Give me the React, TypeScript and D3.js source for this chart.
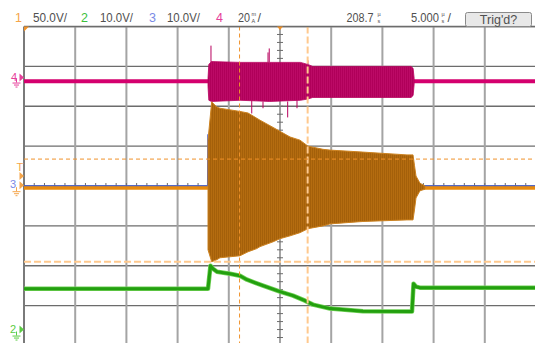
import * as d3 from "d3";

// time axis: 5 µs/div, 10 divisions -> 0..50 µs ; vertical in screen divisions (+4 top .. -4 bottom)
const timeTicks = d3.range(0, 51, 5);
const divTicks = d3.range(-4, 5, 1);

// header readout
const chanNames = ["1", "2", "3", "4"];
const chanColors = ["#f5a54a", "#3cc03c", "#7a8ae6", "#e6409a"];
const chanScales = ["50.0V/", "10.0V/", "10.0V/", "20"];
const delayText = "208.7";
const timebaseText = "5.000";
const trigText = "Trig'd?";

// channel 4 (pink): baseline level and burst envelope [t, top, bottom]
const ch4Level = 2.63;
const ch4Env: [number, number, number][] = [
  [17.97, 2.7, 2.5], [18.05, 3.05, 2.15], [18.3, 3.12, 2.12], [21.1, 3.1, 2.15],
  [24.0, 3.1, 2.12], [27.0, 3.1, 2.15], [27.7, 3.05, 2.18], [28.2, 3.0, 2.22],
  [33.0, 3.0, 2.22], [37.8, 3.0, 2.22], [38.0, 2.95, 2.27], [38.1, 2.7, 2.55],
];
const ch4Spikes: [number, number, number][] = [
  [18.26, 3.1, 3.52], [23.83, 3.1, 3.35], [23.95, 3.1, 3.45], [27.73, 3.05, 3.15],
  [22.24, 2.15, 1.82], [23.34, 2.12, 1.95], [25.75, 2.12, 1.72], [26.66, 2.15, 1.95],
];

// channel 1 (orange)
const ch1Level = -0.05;
const ch1Env: [number, number, number][] = [
  [17.97, 1.15, -1.6], [18.33, 2.11, -1.9], [18.82, 1.98, -1.85], [19.14, 1.95, -1.8],
  [21.09, 1.87, -1.75], [21.88, 1.83, -1.65], [22.73, 1.7, -1.57], [23.05, 1.65, -1.52],
  [24.32, 1.47, -1.4], [25.0, 1.37, -1.32], [25.98, 1.23, -1.25], [26.95, 1.15, -1.17],
  [27.73, 1.0, -1.07], [29.2, 0.92, -1.0], [29.88, 0.9, -0.95], [32.52, 0.86, -0.9],
  [33.1, 0.85, -0.89], [37.4, 0.78, -0.85], [37.99, 0.78, -0.85], [38.13, 0.52, -0.6],
  [38.28, 0.25, -0.3], [38.67, 0.07, -0.12], [39.16, 0.0, -0.08],
];

// channel 2 (green)
const ch2Trace: [number, number][] = [
  [0, -2.575], [17.97, -2.575], [18.21, -2.0], [18.46, -2.075], [18.85, -2.15],
  [20.12, -2.2], [21.09, -2.25], [21.78, -2.35], [23.34, -2.5], [25.0, -2.65],
  [26.27, -2.75], [27.44, -2.875], [28.22, -2.975], [29.88, -3.075], [33.1, -3.14],
  [37.89, -3.15], [38.04, -2.45], [38.28, -2.525], [38.67, -2.55], [50, -2.55],
];

// channel 3 (blue), mostly hidden under channel 1
const ch3Trace: [number, number][] = [
  [0, 0], [17.94, 0], [17.97, 1.3], [18.0, 0], [38.1, 0], [50, 0],
];

// cursors
const xCursors = [21.05, 27.7];
const yCursors = [0.675, -1.9];

// left-side markers (div levels)
const ch4Ground = 2.72;
const trigLevel = 0.47;
const trigArrow = 0.25;
const ch1Ground = 0.02;
const ch2Ground = -3.6;

const xS = d3.scaleLinear().domain([0, 50]).range([24, 536]);
const yS = d3.scaleLinear().domain([4, -4]).range([26.5, 345.5]);

const envArea = d3
  .area<[number, number, number]>()
  .x((d) => xS(d[0]))
  .y0((d) => yS(d[2]))
  .y1((d) => yS(d[1]));
const trace = d3
  .line<[number, number]>()
  .x((d) => xS(d[0]))
  .y((d) => yS(d[1]));

const font = "'Liberation Sans', Arial, sans-serif";

function Ground({ x, y, color }: { x: number; y: number; color: string }) {
  return (
    <g stroke={color} strokeWidth={1}>
      <line x1={x} x2={x} y1={y} y2={y + 4} />
      <line x1={x - 4} x2={x + 4} y1={y + 4.5} y2={y + 4.5} />
      <line x1={x - 2.5} x2={x + 2.5} y1={y + 6.5} y2={y + 6.5} />
      <line x1={x - 1} x2={x + 1} y1={y + 8.5} y2={y + 8.5} />
    </g>
  );
}

function Arrow({ y, color }: { y: number; color: string }) {
  return <path d={`M19.5,${y - 4}L24,${y}L19.5,${y + 4}Z`} fill={color} />;
}

function Stacked({ x, top, bottom }: { x: number; top: string; bottom: string }) {
  return (
    <g fontFamily={font} fontSize={5.5} fill="#505050">
      <text x={x} y={16}>{top}</text>
      <text x={x} y={22.5}>{bottom}</text>
    </g>
  );
}

export default function App() {
  const midX = xS(25);
  const midY = yS(0);
  const ch1Before: [number, number][] = [[0, ch1Level], [17.97, ch1Level]];
  const ch1After: [number, number][] = [[39.0, ch1Level], [50, ch1Level]];
  const ch4Before: [number, number][] = [[0, ch4Level], [18.0, ch4Level]];
  const ch4After: [number, number][] = [[38.05, ch4Level], [50, ch4Level]];

  return (
    <svg
      width={535}
      height={343}
      style={{ position: "absolute", left: 0, top: 0, background: "#fff" }}
    >
      <defs>
        <pattern id="orStripe" width="2" height="6" patternUnits="userSpaceOnUse">
          <rect width="2" height="6" fill="#b46c10" />
          <rect width="1" height="6" fill="#a4600a" />
        </pattern>
        <pattern id="pkStripe" width="2" height="6" patternUnits="userSpaceOnUse">
          <rect width="2" height="6" fill="#b0005a" />
          <rect x="1" width="1" height="6" fill="#bc0a66" />
        </pattern>
      </defs>
      <rect width={535} height={343} fill="#fff" />

      {/* grid */}
      {divTicks.map((d) => (
        <line key={"h" + d} x1={24} x2={536} y1={yS(d)} y2={yS(d)} stroke="#6c6c6c" strokeWidth={1.3} />
      ))}
      {timeTicks.map((t) => (
        <line
          key={"v" + t}
          x1={xS(t)}
          x2={xS(t)}
          y1={yS(4)}
          y2={343}
          stroke={t === 0 ? "#7a7a7a" : "#a4a4a4"}
          strokeWidth={2}
        />
      ))}
      {d3.range(-4, 4.01, 0.2).map((d) => (
        <line key={"ty" + d} x1={midX - 3} x2={midX + 3} y1={yS(d)} y2={yS(d)} stroke="#6c6c6c" strokeWidth={1} />
      ))}
      {d3.range(0, 50.01, 1).map((t) => (
        <line key={"tx" + t} x1={xS(t)} x2={xS(t)} y1={midY - 3} y2={midY + 3} stroke="#6c6c6c" strokeWidth={1} />
      ))}

      {/* channel 3 */}
      <path d={trace(ch3Trace) ?? ""} fill="none" stroke="#3f5bd6" strokeWidth={1.5} />

      {/* channel 2 */}
      <path d={trace(ch2Trace) ?? ""} fill="none" stroke="#6fcf55" strokeWidth={4.5} strokeLinejoin="round" />
      <path d={trace(ch2Trace) ?? ""} fill="none" stroke="#23a00f" strokeWidth={3} strokeLinejoin="round" />

      {/* channel 4 */}
      <path d={trace(ch4Before) ?? ""} stroke="#d4006e" strokeWidth={4} />
      <path d={trace(ch4After) ?? ""} stroke="#d4006e" strokeWidth={4} />
      {ch4Spikes.map((s, i) => (
        <line key={"sp" + i} x1={xS(s[0])} x2={xS(s[0])} y1={yS(s[1])} y2={yS(s[2])} stroke="#b8005e" strokeWidth={1} />
      ))}
      <path d={envArea(ch4Env) ?? ""} fill="url(#pkStripe)" stroke="#b8005e" strokeWidth={0.8} />

      {/* channel 1 */}
      <path d={trace(ch1Before) ?? ""} stroke="#e88a0c" strokeWidth={3.5} />
      <path d={trace(ch1After) ?? ""} stroke="#e88a0c" strokeWidth={3.5} />
      <path d={envArea(ch1Env) ?? ""} fill="url(#orStripe)" stroke="#cc8220" strokeWidth={1} />

      {/* cursors */}
      <line x1={xS(xCursors[0])} x2={xS(xCursors[0])} y1={yS(4)} y2={343} stroke="#f0922a" strokeWidth={1} strokeDasharray="4,3" />
      <line x1={xS(xCursors[1])} x2={xS(xCursors[1])} y1={yS(4)} y2={343} stroke="#ffc98e" strokeWidth={2} strokeDasharray="7,3" />
      <line x1={24} x2={536} y1={yS(yCursors[0])} y2={yS(yCursors[0])} stroke="#f0922a" strokeWidth={1} strokeDasharray="4,3" />
      <line x1={24} x2={536} y1={yS(yCursors[1])} y2={yS(yCursors[1])} stroke="#ffc98e" strokeWidth={2} strokeDasharray="7,3" />

      {/* header */}
      <rect x={0} y={0} width={535} height={yS(4) - 0.5} fill="#fff" />
      <line x1={24} x2={536} y1={yS(4)} y2={yS(4)} stroke="#6c6c6c" strokeWidth={1.5} />
      <path d={`M24,${yS(4)}L29,${yS(4)}L24,${yS(4) + 5}Z`} fill="#f0922a" />
      <path d={`M${midX - 3},${yS(4)}L${midX + 3},${yS(4)}L${midX},${yS(4) + 3.5}Z`} fill="#f0922a" />
      <g fontFamily={font} fontSize={12.5}>
        {[15, 81, 149, 216].map((x, i) => (
          <text key={"n" + i} x={x} y={22} fill={chanColors[i]}>
            {chanNames[i]}
          </text>
        ))}
        <g fill="#505050">
          <text x={33} y={22} textLength={34} lengthAdjust="spacingAndGlyphs">{chanScales[0]}</text>
          <text x={100} y={22} textLength={33} lengthAdjust="spacingAndGlyphs">{chanScales[1]}</text>
          <text x={167} y={22} textLength={33} lengthAdjust="spacingAndGlyphs">{chanScales[2]}</text>
          <text x={238} y={22} textLength={12} lengthAdjust="spacingAndGlyphs">{chanScales[3]}</text>
          <text x={257.5} y={22}>/</text>
          <text x={346.5} y={22} textLength={27} lengthAdjust="spacingAndGlyphs">{delayText}</text>
          <text x={411} y={22} textLength={28} lengthAdjust="spacingAndGlyphs">{timebaseText}</text>
          <text x={447.5} y={22}>/</text>
        </g>
      </g>
      <Stacked x={251.5} top="m" bottom="A" />
      <Stacked x={377.5} top="µ" bottom="s" />
      <Stacked x={441.5} top="µ" bottom="s" />
      <rect x={465.5} y={12.5} width={66} height={14} rx={2} fill="#e8e8e8" stroke="#8a8a8a" />
      <text x={498.5} y={24} textAnchor="middle" fontFamily={font} fontSize={12.5} fill="#505050">
        {trigText}
      </text>

      {/* left markers */}
      <g fontFamily={font} fontSize={11}>
        <Ground x={16.5} y={yS(ch4Ground) + 1} color="#e6409a" />
        <text x={11} y={yS(ch4Ground) + 3} fill="#e6409a">4</text>
        <Arrow y={yS(ch4Ground)} color="#e6409a" />

        <text x={16.5} y={yS(trigLevel) + 4} fill="#f5a54a">T</text>
        <Arrow y={yS(trigArrow)} color="#f5a54a" />

        <Ground x={16.5} y={yS(ch1Ground) + 2} color="#f5a54a" />
        <text x={10} y={yS(ch1Ground) + 3} fill="#7a8ae6">3</text>
        <Arrow y={yS(ch1Ground)} color="#f5a54a" />

        <Ground x={16.5} y={yS(ch2Ground) + 2} color="#5ccc44" />
        <text x={10} y={yS(ch2Ground) + 3} fill="#5ccc44">2</text>
        <Arrow y={yS(ch2Ground)} color="#5ccc44" />
      </g>
    </svg>
  );
}
